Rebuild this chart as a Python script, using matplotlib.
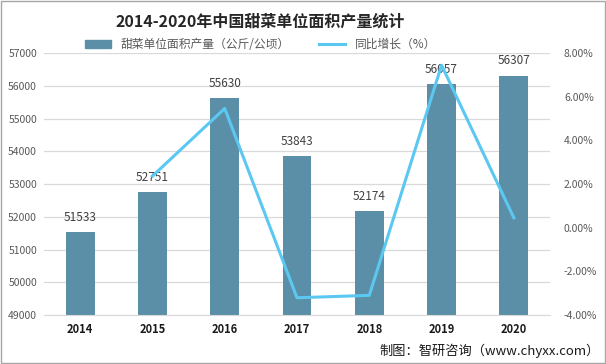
import matplotlib.pyplot as plt
import numpy as np
from matplotlib.ticker import FuncFormatter
from matplotlib.patches import Rectangle
from matplotlib.lines import Line2D
from matplotlib.patches import Patch

plt.rcParams['font.family'] = ['Noto Sans CJK SC', 'DejaVu Sans']

years = ['2014', '2015', '2016', '2017', '2018', '2019', '2020']
yield_kg = [51533, 52751, 55630, 53843, 52174, 56057, 56307]
growth = [np.nan, 2.36, 5.46, -3.21, -3.10, 7.44, 0.45]

bar_color = '#5B8FA7'
line_color = '#5BC8F2'

fig = plt.figure(figsize=(6.06, 3.64), dpi=100)
ax = fig.add_axes([0.0726, 0.1346, 0.835, 0.7198])
x = np.arange(len(years))

ax.bar(x, yield_kg, width=0.4, color=bar_color, zorder=2)
for xi, v in zip(x, yield_kg):
    ax.annotate(str(v), (xi, v), xytext=(0, 6), textcoords='offset points',
                ha='center', va='bottom', fontsize=8.5, color='#404040')

ax.set_ylim(49000, 57000)
ax.set_yticks(range(49000, 57001, 1000))
ax.set_xlim(-0.5, 6.5)
ax.set_xticks(x)
ax.set_xticklabels(years, fontweight='bold', fontsize=8, color='#1a1a1a')
ax.tick_params(axis='both', length=0)
ax.tick_params(axis='y', labelsize=7.5, labelcolor='#595959', pad=5)
ax.tick_params(axis='x', pad=6)
ax.grid(axis='y', color='#D9D9D9', linewidth=0.9, zorder=0)
ax.set_axisbelow(True)
for s in ['top', 'left', 'right']:
    ax.spines[s].set_visible(False)
ax.spines['bottom'].set_color('#D9D9D9')

ax2 = ax.twinx()
ax2.plot(x, growth, color=line_color, linewidth=2.2, zorder=3)
ax2.set_ylim(-4, 8)
ax2.set_yticks(range(-4, 9, 2))
ax2.yaxis.set_major_formatter(FuncFormatter(lambda v, p: '%.2f%%' % v))
ax2.tick_params(axis='y', length=0, labelsize=7.5, labelcolor='#595959', pad=10)
for s in ['top', 'left', 'right', 'bottom']:
    ax2.spines[s].set_visible(False)

fig.text(0.43, 0.94, '2014-2020年中国甜菜单位面积产量统计', ha='center', va='center',
         fontsize=11.5, fontweight='bold', color='#262626')

handles = [Patch(color=bar_color), Line2D([], [], color=line_color, linewidth=2.2)]
fig.legend(handles, ['甜菜单位面积产量（公斤/公顷）', '同比增长（%）'],
           loc='center', bbox_to_anchor=(0.43, 0.878), ncol=2, frameon=False,
           fontsize=8.5, handlelength=2.2, handleheight=0.7, columnspacing=2.5,
           labelcolor='#595959')

fig.text(0.99, 0.035, '制图：智研咨询（www.chyxx.com）', ha='right', va='center',
         fontsize=9.5, color='#1a1a1a')

fig.patches.append(Rectangle((0.001, 0.002), 0.997, 0.995, transform=fig.transFigure,
                             fill=False, edgecolor='#A6A6A6', linewidth=1))

fig.savefig('out.png', dpi=100)
